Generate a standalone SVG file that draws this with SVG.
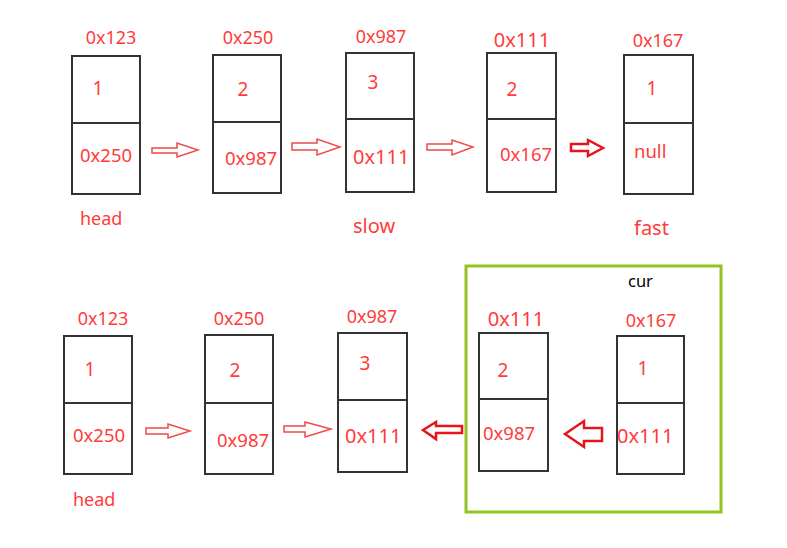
<svg xmlns="http://www.w3.org/2000/svg" width="787" height="548" viewBox="0 0 787 548">
<style>
  .box { fill: none; stroke: #333; stroke-width: 2; }
  .t { font-family: "Noto Sans", "Open Sans", sans-serif; fill: #ff3b3b; }
  .lbl { font-size: 18px; text-anchor: middle; }
  .num { font-size: 19px; text-anchor: middle; }
  .addr { font-size: 18.5px; }
  .big { font-size: 20px; }
  .arr { fill: #fff; stroke: #f04a4a; stroke-width: 1.5; stroke-linejoin: miter; }
  .arrb { fill: #fff; stroke: #e8141c; stroke-width: 2.5; stroke-linejoin: miter; }
</style>
<rect width="787" height="548" fill="#fff"/>

<!-- top row -->
<g id="t1">
  <rect class="box" x="72" y="56" width="68" height="138"/>
  <line class="box" x1="72" y1="123" x2="140" y2="123"/>
  <text class="t lbl" x="111" y="44">0x123</text>
  <text class="t num" x="98" y="95">1</text>
  <text class="t addr" x="80" y="162">0x250</text>
  <text class="t" x="80" y="225" font-size="18">head</text>
</g>
<g id="t2">
  <rect class="box" x="213" y="55" width="68" height="138"/>
  <line class="box" x1="213" y1="122" x2="281" y2="122"/>
  <text class="t lbl" x="248" y="44">0x250</text>
  <text class="t num" x="243" y="96">2</text>
  <text class="t addr" x="225" y="165">0x987</text>
</g>
<g id="t3">
  <rect class="box" x="346" y="53" width="68" height="139"/>
  <line class="box" x1="346" y1="119" x2="414" y2="119"/>
  <text class="t lbl" x="381" y="43">0x987</text>
  <text class="t num" x="373" y="89">3</text>
  <text class="t addr big" x="353" y="164">0x111</text>
  <text class="t" x="353" y="233" font-size="20">slow</text>
</g>
<g id="t4">
  <rect class="box" x="487" y="53" width="69" height="139"/>
  <line class="box" x1="487" y1="119" x2="556" y2="119"/>
  <text class="t lbl big" x="522" y="47">0x111</text>
  <text class="t num" x="512" y="96">2</text>
  <text class="t addr" x="500" y="161">0x167</text>
</g>
<g id="t5">
  <rect class="box" x="624" y="55" width="69" height="139"/>
  <line class="box" x1="624" y1="123" x2="693" y2="123"/>
  <text class="t lbl" x="658" y="47">0x167</text>
  <text class="t num" x="652" y="95">1</text>
  <text class="t addr" x="634" y="158">null</text>
  <text class="t" x="634" y="235" font-size="20">fast</text>
</g>

<!-- bottom row -->
<rect x="466" y="266" width="255" height="246" fill="none" stroke="#92c320" stroke-width="3"/>
<text x="628" y="287" font-family="Noto Sans, sans-serif" font-size="16.5" fill="#000">cur</text>

<g id="b1">
  <rect class="box" x="64" y="336" width="68" height="138"/>
  <line class="box" x1="64" y1="403" x2="132" y2="403"/>
  <text class="t lbl" x="103" y="325">0x123</text>
  <text class="t num" x="90" y="376">1</text>
  <text class="t addr" x="73" y="442">0x250</text>
  <text class="t" x="73" y="506" font-size="18">head</text>
</g>
<g id="b2">
  <rect class="box" x="205" y="335" width="68" height="139"/>
  <line class="box" x1="205" y1="403" x2="273" y2="403"/>
  <text class="t lbl" x="239" y="325">0x250</text>
  <text class="t num" x="235" y="377">2</text>
  <text class="t addr" x="217" y="447">0x987</text>
</g>
<g id="b3">
  <rect class="box" x="338" y="333" width="69" height="139"/>
  <line class="box" x1="338" y1="400" x2="407" y2="400"/>
  <text class="t lbl" x="372" y="323">0x987</text>
  <text class="t num" x="365" y="370">3</text>
  <text class="t addr big" x="345" y="443">0x111</text>
</g>
<g id="b4">
  <rect class="box" x="479" y="333" width="69" height="138"/>
  <line class="box" x1="479" y1="399" x2="548" y2="399"/>
  <text class="t lbl big" x="516" y="326">0x111</text>
  <text class="t num" x="503" y="377">2</text>
  <text class="t addr" x="483" y="440">0x987</text>
</g>
<g id="b5">
  <rect class="box" x="617" y="336" width="67" height="138"/>
  <line class="box" x1="617" y1="403" x2="684" y2="403"/>
  <text class="t lbl" x="651" y="327">0x167</text>
  <text class="t num" x="643" y="375">1</text>
  <text class="t addr big" x="617" y="443">0x111</text>
</g>

<g id="connectors">
  <polygon class="arr" points="152,148 177,148 177,143 198,150 177,157 177,153 152,153"/>
  <polygon class="arr" points="292,143 317,143 317,139 340,147 317,155 317,150 292,150"/>
  <polygon class="arr" points="427,144 452,144 452,140 473,147 452,155 452,150 427,150"/>
  <polygon class="arrb" points="571,144 588,144 588,140 603,148 588,156 588,151 571,151"/>
  <polygon class="arr" points="146,428 168,428 168,424 190,431 168,438 168,434 146,434"/>
  <polygon class="arr" points="284,426 305,426 305,422 331,429 305,437 305,432 284,432"/>
  <polygon class="arrb" points="423,430 436,422 436,426 462,426 462,433 436,433 436,439"/>
  <polygon class="arrb" points="565,434 584,421 584,428 602,428 602,441 584,441 584,447"/>
</g>
</svg>
